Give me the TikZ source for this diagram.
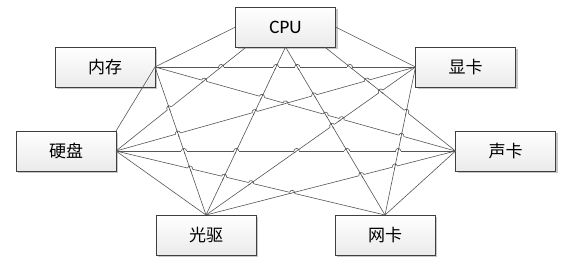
\documentclass[tikz,border=0pt]{standalone}
\usepackage{fontspec}
\setmainfont{Carlito}
\newfontfamily\cjk{Noto Sans CJK SC}
\usepackage{tikz}
\usetikzlibrary{shadows}
\definecolor{ink}    {HTML}{3F3F3F}
\definecolor{wirecol}{HTML}{555555}
\tikzset{
  % --- nodes
  box/.style   = {draw=ink, line width=0.8pt, top color=white, bottom color=black!8,
                  minimum width=100pt, minimum height=40pt, inner sep=0pt, outer sep=0pt,
                  font=\cjk\fontsize{17}{20}\selectfont,
                  general shadow={fill=black!22, shadow xshift=2pt, shadow yshift=-2pt}},
  % --- edges
  wire/.style  = {draw=wirecol, line width=0.6pt},
  blank/.style = {draw=white, line width=1.8pt},
}
% every connector, in the order it is laid down
\def\links{cpu.west/mem.east, cpu.east/gpu.west, cpu.207.5/hdd.east,
  cpu.south/odd.north, cpu.south/nic.north, cpu.-27.5/snd.west,
  mem.east/gpu.west, mem.east/hdd.north east, mem.east/snd.west, mem.east/odd.north,
  gpu.west/hdd.east, gpu.west/odd.north, gpu.west/nic.north,
  hdd.east/snd.west, hdd.east/odd.north, hdd.east/nic.north,
  snd.west/odd.north, snd.west/nic.north}
% line jump where two connectors cross: the flatter one hops
\newcommand\hop[4]{%
  \path (#1); \pgfgetlastxy\hAx\hAy
  \path (#2); \pgfgetlastxy\hBx\hBy
  \path (#3); \pgfgetlastxy\hCx\hCy
  \path (#4); \pgfgetlastxy\hDx\hDy
  \pgfmathsetmacro\hrx{(\hBx-\hAx)/100}%
  \pgfmathsetmacro\hry{(\hBy-\hAy)/100}%
  \pgfmathsetmacro\hsx{(\hDx-\hCx)/100}%
  \pgfmathsetmacro\hsy{(\hDy-\hCy)/100}%
  \pgfmathsetmacro\hqx{(\hCx-\hAx)/100}%
  \pgfmathsetmacro\hqy{(\hCy-\hAy)/100}%
  \pgfmathsetmacro\hden{\hrx*\hsy-\hry*\hsx}%
  \pgfmathsetmacro\hok{abs(\hden)>0.0005}%
  \ifdim\hok pt>0.5pt
    \pgfmathsetmacro\hpt{(\hqx*\hsy-\hqy*\hsx)/\hden}%
    \pgfmathsetmacro\hpu{(\hqx*\hry-\hqy*\hrx)/\hden}%
    \pgfmathsetmacro\hok{(\hpt>0.01)*(\hpt<0.99)*(\hpu>0.01)*(\hpu<0.99)}%
    \ifdim\hok pt>0.5pt
      \pgfmathsetmacro\hpx{\hAx+\hpt*(\hBx-\hAx)}%
      \pgfmathsetmacro\hpy{\hAy+\hpt*(\hBy-\hAy)}%
      \pgfmathsetmacro\hkr{abs(\hry)/veclen(\hrx,\hry)}%
      \pgfmathsetmacro\hks{abs(\hsy)/veclen(\hsx,\hsy)}%
      \ifdim\hkr pt>\hks pt
        \pgfmathsetmacro\hang{\hsx<0 ? atan2((-1)*(\hsy),(-1)*(\hsx)) : atan2(\hsy,\hsx)}%
        \pgfmathsetmacro\hbng{atan2(\hry,\hrx)}%
      \else
        \pgfmathsetmacro\hang{\hrx<0 ? atan2((-1)*(\hry),(-1)*(\hrx)) : atan2(\hry,\hrx)}%
        \pgfmathsetmacro\hbng{atan2(\hsy,\hsx)}%
      \fi
      \pgfmathsetmacro\hex{2.6*cos(\hang)}%
      \pgfmathsetmacro\hey{2.6*sin(\hang)}%
      \pgfmathsetmacro\hfx{3.4*cos(\hbng)}%
      \pgfmathsetmacro\hfy{3.4*sin(\hbng)}%
      \pgfmathsetmacro\haX{\hpx-(\hex)}\pgfmathsetmacro\haY{\hpy-(\hey)}%
      \pgfmathsetmacro\hbX{\hpx+(\hex)}\pgfmathsetmacro\hbY{\hpy+(\hey)}%
      \pgfmathsetmacro\hcX{\hpx-(\hfx)}\pgfmathsetmacro\hcY{\hpy-(\hfy)}%
      \pgfmathsetmacro\hdX{\hpx+(\hfx)}\pgfmathsetmacro\hdY{\hpy+(\hfy)}%
      \draw[blank] (\haX,\haY) -- (\hbX,\hbY);
      \draw[wire] (\hcX,\hcY) -- (\hdX,\hdY);
      \draw[wire] (\haX,\haY) arc[start angle=\hang+180, end angle=\hang, radius=2.6pt];
    \fi
  \fi
}

\begin{document}
\begin{tikzpicture}[x=1pt,y=1pt]
  \useasboundingbox (0,0) rectangle (588,-271);
  \node[box] (cpu) at (285.5,-27)  {\rmfamily\fontsize{19}{22}\selectfont CPU};
  \node[box] (mem) at (105,-67)    {内存};
  \node[box] (gpu) at (465.5,-67)  {显卡};
  \node[box] (hdd) at (66,-151)    {硬盘};
  \node[box] (snd) at (505.5,-151) {声卡};
  \node[box] (odd) at (206,-235)   {光驱};
  \node[box] (nic) at (385,-235)   {网卡};
  \foreach \ea/\eb in \links {
    \draw[wire] (\ea) -- (\eb);
  }
  \foreach \ea/\eb [count=\i] in \links {
    \foreach \ec/\ed [count=\j] in \links {
      \ifnum\j<\i \hop{\ea}{\eb}{\ec}{\ed}\fi
    }
  }
\end{tikzpicture}
\end{document}
